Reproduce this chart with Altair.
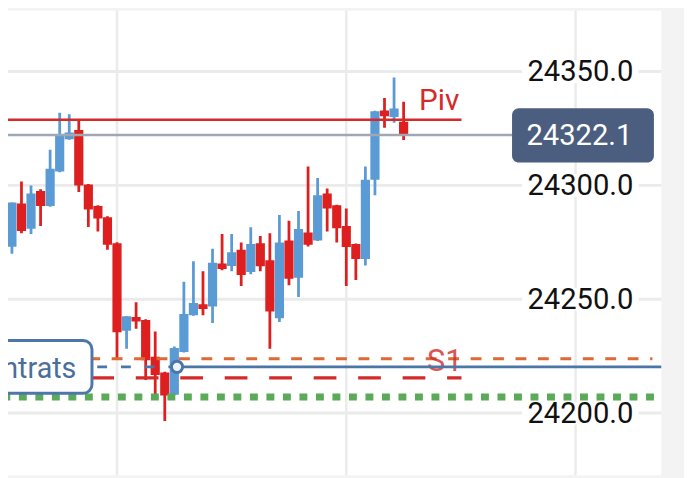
import altair as alt
import pandas as pd

# ---------------- data ----------------
candle_index = list(range(43))
opens = [24283.0, 24273.0, 24292.0, 24281.0, 24297.5, 24290.9, 24306.1, 24320.3, 24324.3, 24300.4,
         24290.9, 24286.0, 24274.6, 24236.2, 24242.2, 24240.9, 24224.7, 24217.8, 24208.0, 24226.8,
         24243.0, 24247.8, 24246.8, 24265.7, 24264.6, 24271.7, 24262.0, 24274.6, 24267.1, 24241.6,
         24275.8, 24259.4, 24279.3, 24275.8, 24296.4, 24291.3, 24282.2, 24274.3, 24267.7, 24302.5,
         24332.9, 24330.0, 24328.0]
highs = [24283.5, 24292.5, 24301.7, 24300.0, 24298.3, 24315.7, 24331.9, 24331.2, 24328.3, 24300.6,
         24291.3, 24286.5, 24275.0, 24242.5, 24248.7, 24241.2, 24235.8, 24218.2, 24229.2, 24257.7,
         24266.7, 24262.3, 24272.2, 24278.7, 24278.7, 24274.9, 24281.6, 24277.8, 24279.0, 24287.0,
         24284.5, 24288.7, 24308.3, 24303.3, 24298.6, 24291.5, 24289.9, 24274.5, 24308.3, 24332.8,
         24338.4, 24347.4, 24336.7]
lows = [24261.0, 24270.0, 24279.0, 24278.7, 24282.2, 24290.6, 24305.8, 24320.1, 24297.1, 24281.7,
        24279.7, 24271.7, 24223.9, 24228.3, 24237.0, 24214.5, 24208.0, 24196.5, 24207.8, 24226.6,
        24242.8, 24243.0, 24239.6, 24262.7, 24262.3, 24255.8, 24261.0, 24262.3, 24228.3, 24240.0,
        24256.1, 24251.0, 24273.2, 24275.6, 24279.7, 24274.9, 24255.8, 24258.4, 24264.8, 24295.7,
        24325.3, 24327.5, 24319.9]
closes = [24272.6, 24292.5, 24280.0, 24296.4, 24290.9, 24307.3, 24322.5, 24323.2, 24300.0, 24289.4,
          24285.5, 24273.9, 24235.5, 24242.5, 24240.2, 24223.2, 24216.7, 24207.7, 24228.6, 24243.5,
          24248.3, 24245.7, 24266.0, 24263.3, 24270.6, 24260.6, 24274.3, 24264.5, 24244.6, 24274.9,
          24259.0, 24280.9, 24273.9, 24295.7, 24289.9, 24281.2, 24272.9, 24267.7, 24302.5, 24332.6,
          24330.4, 24333.8, 24322.1]

y_ticks = [24200.0, 24250.0, 24300.0, 24350.0]
y_tick_labels = ["24200.0", "24250.0", "24300.0", "24350.0"]
x_grid = [12, 36, 60]

last_price = 24322.1
last_price_label = "24322.1"
piv_level = 24328.8
s1_level = 24223.9
red_dash_level = 24215.5
position_level = 24220.3
green_level = 24207.1
position_box_label = "Contrats"

# ---------------- styling ----------------
BLUE = "#5b9bd5"
RED = "#de1f1f"
LINE_RED = "#d42a2a"
GRID = "#ebebeb"
FONT = "Roboto"

X_DOM = [0.59, 68.97]
Y_DOM = [24172.7, 24376.7]
xs = alt.Scale(domain=X_DOM, nice=False, zero=False)
ys = alt.Scale(domain=Y_DOM, nice=False, zero=False)

df = pd.DataFrame({"i": candle_index, "open": opens, "high": highs, "low": lows, "close": closes})
df["dir"] = ["up" if c >= o else "down" for o, c in zip(opens, closes)]
df["xl"] = df["i"] - 0.48
df["xr"] = df["i"] + 0.48

color = alt.Color("dir:N", scale=alt.Scale(domain=["up", "down"], range=[BLUE, RED]), legend=None)

# gridlines
vgrid = alt.Chart(pd.DataFrame({"x": x_grid})).mark_rule(color=GRID, strokeWidth=2.5).encode(
    x=alt.X("x:Q", scale=xs, axis=None)
)
hgrid = alt.Chart(pd.DataFrame({"y": y_ticks, "x0": [0.0] * 4, "x1": [70.0] * 4})).mark_rule(
    color=GRID, strokeWidth=3, clip=True
).encode(
    x=alt.X("x0:Q", scale=xs, axis=None), x2="x1:Q", y=alt.Y("y:Q", scale=ys, axis=None)
)

wicks = alt.Chart(df).mark_rule(strokeWidth=2.8, clip=True).encode(
    x=alt.X("i:Q", scale=xs, axis=None),
    y=alt.Y("low:Q", scale=ys, axis=None),
    y2="high:Q",
    color=color,
)
bodies = alt.Chart(df).mark_rect(clip=True).encode(
    x=alt.X("xl:Q", scale=xs, axis=None),
    x2="xr:Q",
    y=alt.Y("open:Q", scale=ys, axis=None),
    y2="close:Q",
    color=color,
)


def hline(level, x0, x1, stroke, width, dash=None, opacity=1.0):
    kw = dict(color=stroke, strokeWidth=width, clip=True, strokeCap="butt", opacity=opacity)
    if dash:
        kw["strokeDash"] = dash
    return alt.Chart(pd.DataFrame({"y": [level], "x0": [x0], "x1": [x1]})).mark_rule(**kw).encode(
        x=alt.X("x0:Q", scale=xs, axis=None), x2="x1:Q", y=alt.Y("y:Q", scale=ys, axis=None)
    )


price_line = hline(last_price, 0.0, 53.35, "#a0a7b4", 2.6)
piv_line = hline(piv_level, 0.0, 48.06, LINE_RED, 2.6)
red_dash = hline(red_dash_level, 0.0, 48.06, LINE_RED, 3.2, [23, 22])
s1_line = hline(s1_level, -0.3, 68.04, "#dd6a35", 3, [11, 11.7])
green_line = hline(green_level, 0.0, 70.0, "#5aaa5a", 7, [8, 8.7])
blue_dash = hline(position_level, 0.0, 18.28, "#4a76a8", 3, [10, 14])
blue_line = hline(position_level, 18.28, 70.0, "#4a76a8", 3)

circle = alt.Chart(pd.DataFrame({"x": [18.28], "y": [position_level]})).mark_point(
    shape="circle", filled=True, size=130, fill="#eef4fb", stroke="#4a76a8", strokeWidth=3, opacity=1
).encode(x=alt.X("x:Q", scale=xs, axis=None), y=alt.Y("y:Q", scale=ys, axis=None))

s1_text = alt.Chart(pd.DataFrame({"x": [46.3], "y": [24218.7], "t": ["S1"]})).mark_text(
    font=FONT, fontSize=31, color=LINE_RED, opacity=0.8, align="center", baseline="alphabetic"
).encode(x=alt.X("x:Q", scale=xs, axis=None), y=alt.Y("y:Q", scale=ys, axis=None), text="t:N")

box = alt.Chart(pd.DataFrame({"x0": [-3.0], "x1": [9.38], "y0": [24208.7], "y1": [24231.9]})).mark_rect(
    fill="white", stroke="#4d77a8", strokeWidth=3, cornerRadius=9, clip=True
).encode(
    x=alt.X("x0:Q", scale=xs, axis=None), x2="x1:Q", y=alt.Y("y0:Q", scale=ys, axis=None), y2="y1:Q"
)
box_text = alt.Chart(pd.DataFrame({"x": [7.75], "y": [24215.2], "t": [position_box_label]})).mark_text(
    font=FONT, fontSize=29, color="#4a6f9a", align="right", baseline="alphabetic", clip=True
).encode(x=alt.X("x:Q", scale=xs, axis=None), y=alt.Y("y:Q", scale=ys, axis=None), text="t:N")

lab_df = pd.DataFrame({"y": y_ticks, "t": y_tick_labels})
lab_df["y0"] = lab_df["y"] - 5.0
lab_df["y1"] = lab_df["y"] + 5.0
lab_df["x0"] = 54.4
lab_df["x1"] = 66.6
lab_df["x"] = 60.5
lab_bg = alt.Chart(lab_df).mark_rect(fill="white").encode(
    x=alt.X("x0:Q", scale=xs, axis=None), x2="x1:Q", y=alt.Y("y0:Q", scale=ys, axis=None), y2="y1:Q"
)
labels = alt.Chart(lab_df).mark_text(
    font=FONT, fontSize=29.5, color="#111111", align="center", baseline="middle", dy=1
).encode(x=alt.X("x:Q", scale=xs, axis=None), y=alt.Y("y:Q", scale=ys, axis=None), text="t:N")

tag = alt.Chart(pd.DataFrame({"x0": [53.35], "x1": [68.2], "y0": [24310.0], "y1": [24333.85]})).mark_rect(
    fill="#4b5e7f", cornerRadius=7
).encode(
    x=alt.X("x0:Q", scale=xs, axis=None), x2="x1:Q", y=alt.Y("y0:Q", scale=ys, axis=None), y2="y1:Q"
)
tag_text = alt.Chart(pd.DataFrame({"x": [60.4], "y": [last_price], "t": [last_price_label]})).mark_text(
    font=FONT, fontSize=29.5, color="white", align="center", baseline="middle", dy=1
).encode(x=alt.X("x:Q", scale=xs, axis=None), y=alt.Y("y:Q", scale=ys, axis=None), text="t:N")

piv_text = alt.Chart(pd.DataFrame({"x": [43.62], "y": [24333.2], "t": ["Piv"]})).mark_text(
    font=FONT, fontSize=30, color=LINE_RED, align="left", baseline="alphabetic"
).encode(x=alt.X("x:Q", scale=xs, axis=None), y=alt.Y("y:Q", scale=ys, axis=None), text="t:N")

chart = alt.layer(
    vgrid, hgrid, wicks, bodies,
    price_line, piv_line, red_dash, s1_line, green_line,
    s1_text, blue_dash, blue_line, box, box_text, circle,
    lab_bg, labels, tag, tag_text, piv_text,
).properties(
    width=661, height=470,
    autosize="none",
    padding={"left": 0, "top": 0, "right": 23, "bottom": 0},
    background="#f3f3f3",
).configure_view(stroke=None, fill="white")

chart.save("out.html", embed_options={"renderer": "svg", "actions": False})
